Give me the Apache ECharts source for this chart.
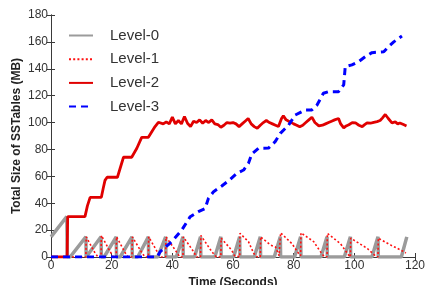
<!DOCTYPE html>
<html>
<head>
<meta charset="utf-8">
<script src="https://cdn.jsdelivr.net/npm/echarts@6/dist/echarts.min.js"></script>
<style>
  html, body { margin: 0; padding: 0; background: #fff; }
  #main { width: 425px; height: 285px; }
</style>
</head>
<body>
<div id="main"></div>
<script>
// series names
var levels = ['Level-0', 'Level-1', 'Level-2', 'Level-3'];

// Level-0 (seconds, MB)
var l0T = [0, 5.2, 5.4, 6.3, 11.5, 11.6, 12.2, 16.5, 16.6, 17.5, 21.5, 21.6, 22.8, 26.7, 26.8,
  28.6, 32.1, 32.2, 35.2, 37.8, 37.9, 41.3, 43.5, 43.6, 47.3, 49.3, 49.4, 54.0, 56.0, 56.1,
  60.2, 62.2, 62.3, 67.0, 69.0, 69.1, 73.6, 75.6, 75.7, 80.3, 82.3, 82.4, 89.0, 91.0, 91.1,
  96.7, 98.7, 98.8, 105.8, 107.8, 107.9, 115.5, 117.3];
var l0V = [15, 30, 0, 0, 15, 0, 0, 15, 0, 0, 15, 0, 0, 15, 0,
  0, 15, 0, 0, 15, 0, 0, 15, 0, 0, 15, 0, 0, 15, 0,
  0, 15, 0, 0, 15, 0, 0, 15, 0, 0, 15, 0, 0, 15, 0,
  0, 15, 0, 0, 15, 0, 0, 15];

// Level-1
var l1T = [0, 11.5, 11.6, 14.5, 15.5, 16.5, 16.6, 19.5, 20.5, 21.5, 21.6, 24.5, 25.5, 26.7,
  26.8, 30, 31, 32.1, 32.2, 35.5, 36.3, 37.8, 37.9, 41, 42.5, 43.5, 43.6, 47, 48, 49.3,
  49.4, 53, 54.5, 56.0, 56.1, 59.6, 60.5, 62.2, 62.3, 65.1, 66.8, 68, 69.0, 69.1, 72.3, 74,
  75.2, 75.6, 75.7, 79.4, 81.6, 82.3, 82.4, 86.6, 88.8, 90, 91.0, 91.1, 95.4, 98.1, 98.7,
  98.8, 104.2, 107, 107.8, 107.9, 111.9, 116.3, 117];
var l1V = [0, 0, 15, 3, 0, 0, 16, 4, 0, 0, 15, 3, 0, 0,
  15, 3, 0, 0, 15, 2, 0, 0, 15, 5, 0, 0, 15, 4, 0, 0,
  16, 4, 0, 0, 14, 5, 1, 0, 17.6, 11.4, 2.8, 0, 0, 15, 9, 7.5,
  1, 0, 18, 10, 2.8, 1, 18, 11.4, 4, 0.5, 0, 17.6, 10, 1.5, 0,
  14, 6.5, 0.7, 0, 14, 9, 4, 3];

// Level-2
var l2T = [0, 5.3, 5.5, 11.2, 12, 12.9, 16.6, 17.2, 17.8, 18.5, 21.9, 22.8, 23.9, 26.6, 28.3,
  29.9, 32.1, 34.3, 35.4, 36, 37, 38, 39, 40, 41, 42, 43, 44, 45, 46, 47, 48, 49, 50,
  51, 52, 53, 54, 55, 56, 57, 58, 59, 60, 61, 62, 63, 64, 65, 66, 67, 68, 69, 70, 71,
  72, 73, 74, 75, 76, 76.6, 77.5, 78.8, 80, 81, 82, 83, 84, 85, 86, 87, 88.3, 89.5, 90.5,
  91.5, 92.5, 93.5, 94.8, 95.5, 96.5, 97.3, 98.2, 99.3, 100.4, 101.5, 102.6, 103.4, 104.2,
  105.3, 106.4, 107.5, 108.5, 109.3, 110.2, 111.2, 112.4, 113.5, 114.3, 115, 116.2, 117.2];
var l2V = [0, 0, 30, 30, 38, 44.4, 44.4, 51, 57, 59.3, 59.3, 66, 74.2, 74.2, 80.9,
  89, 89, 97, 100.2, 100, 99, 100.5, 99, 104, 99, 101.5, 99, 104.5, 99.5, 97, 101, 100, 102, 99.5,
  101.5, 100, 102, 99, 98.5, 96.5, 98, 100, 99.5, 100, 99, 97, 99, 101, 103, 99, 97, 95.7, 98, 100, 101.5,
  100, 99, 98, 97, 103, 105, 102, 100.5, 99, 98, 96.8, 98, 100, 102, 104, 100, 97.5, 98, 99,
  100, 101, 102, 103, 99, 96, 97.5, 98.4, 100, 99.7, 98, 97, 98.5, 99.8,
  99.5, 100.2, 100.7, 101.5, 103.5, 106, 103, 99.8, 100.5, 99, 99.7, 98.5, 97.5];

// Level-3
var l3T = [0, 35, 36, 39.8, 43.1, 45.9, 48.6, 50.8, 51.9, 53.6, 56.3, 59.1, 61.3, 63.5, 65.1,
  66.2, 68.4, 71.7, 73.9, 75.6, 78.3, 80.5, 83.8, 86, 87.7, 89.8, 91.5, 94.8, 96.5, 97,
  99.2, 101.4, 103.6, 105.8, 109.7, 111.3, 113, 115.7];
var l3V = [0, 0, 4, 11.4, 20, 30, 33.7, 36, 43.6, 48.6, 52.8, 57.8, 62.3, 64.7, 69.7,
  76.6, 80.9, 81, 85.8, 92, 98, 105.6, 109.4, 109.4, 113, 121.8, 123, 123, 128, 141.6,
  142.9, 145.3, 149, 152, 152.7, 156.5, 160, 164.4];

// axis ticks
var xTicks = [0, 20, 40, 60, 80, 100, 120];
var yTicks = [0, 20, 40, 60, 80, 100, 120, 140, 160, 180];

function pairs(t, v) {
  return t.map(function (x, i) { return [x, v[i]]; });
}

var axisCol = '#3a3a3a';
var font = 'Liberation Sans, Arial, sans-serif';

function xAx(pos, labels) {
  return {
    type: 'value', position: pos, min: xTicks[0], max: xTicks[xTicks.length - 1], interval: 20,
    axisLine: { show: true, lineStyle: { color: axisCol, width: 1 } },
    axisTick: { show: true, inside: true, length: 4, lineStyle: { color: axisCol } },
    axisLabel: { show: labels, color: '#333', fontSize: 12, fontFamily: font, margin: 3 },
    splitLine: { show: false },
    name: labels ? 'Time (Seconds)' : '', nameLocation: 'middle', nameGap: 18,
    nameTextStyle: { fontWeight: 'bold', fontSize: 12, color: '#222', fontFamily: font }
  };
}
function yAx(pos, labels) {
  return {
    type: 'value', position: pos, min: yTicks[0], max: yTicks[yTicks.length - 1], interval: 20,
    axisLine: { show: true, lineStyle: { color: axisCol, width: 1 } },
    axisTick: { show: true, inside: true, length: 4, lineStyle: { color: axisCol } },
    axisLabel: { show: labels, color: '#333', fontSize: 12, fontFamily: font, margin: 3 },
    splitLine: { show: false },
    name: labels ? 'Total Size of SSTables (MB)' : '', nameLocation: 'middle', nameGap: 28,
    nameMoveOverlap: false,
    nameTextStyle: { fontWeight: 'bold', fontSize: 12, color: '#222', fontFamily: font }
  };
}

var chart = echarts.init(document.getElementById('main'));
chart.setOption({
  animation: false,
  backgroundColor: '#fff',
  grid: { left: 51, right: 10, top: 15, bottom: 28, outerBoundsMode: 'none', containLabel: false },
  xAxis: [xAx('bottom', true), xAx('top', false)],
  yAxis: [yAx('left', true), yAx('right', false)],
  legend: {
    orient: 'vertical', left: 68, top: 28, padding: 0, itemWidth: 24, itemHeight: 14, itemGap: 8.7,
    itemStyle: { opacity: 0 },
    textStyle: { fontSize: 15, color: '#333', fontFamily: font, padding: [0, 0, 0, 12] },
    data: levels
  },
  series: [
    { name: levels[0], type: 'line', symbol: 'none', data: pairs(l0T, l0V), color: '#9b9b9b',
      lineStyle: { color: '#9b9b9b', width: 3.5 } },
    { name: levels[1], type: 'line', symbol: 'none', data: pairs(l1T, l1V), color: '#ff1010',
      lineStyle: { color: '#ff1010', width: 1.6, type: [2, 2.2] } },
    { name: levels[2], type: 'line', symbol: 'none', data: pairs(l2T, l2V), color: '#e00000',
      lineStyle: { color: '#e00000', width: 2.8 } },
    { name: levels[3], type: 'line', symbol: 'none', data: pairs(l3T, l3V), color: '#0000ff',
      lineStyle: { color: '#0000ff', width: 3, type: [7, 5] } }
  ]
});
</script>
</body>
</html>
